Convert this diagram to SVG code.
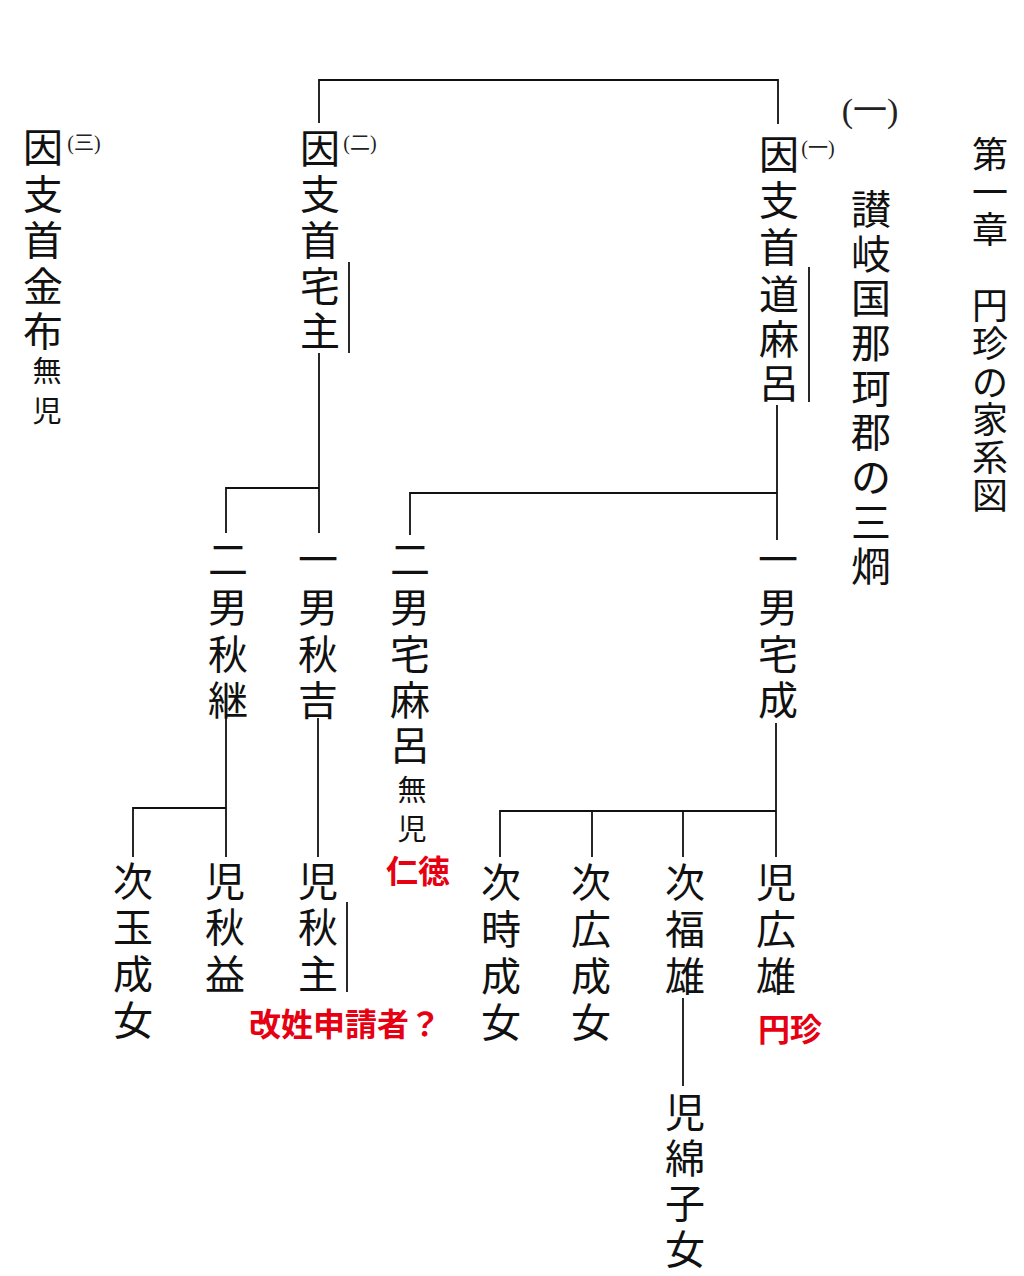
<svg xmlns="http://www.w3.org/2000/svg" width="1024" height="1276" viewBox="0 0 1024 1276">
<style>
.t{font-family:"Noto Sans CJK JP","Noto Sans CJK SC",sans-serif;font-size:40px;fill:#111;text-anchor:middle;dominant-baseline:central}
.s{font-size:29px}
.m{font-family:"Liberation Serif","Noto Sans CJK JP",serif;font-size:20px;fill:#222;dominant-baseline:central}
.big{font-size:34px}
.ttl{font-size:36px}
.red{font-family:"Noto Sans CJK JP",sans-serif;font-size:32px;font-weight:bold;fill:#e60012;text-anchor:middle;dominant-baseline:central}
.ln{stroke:#111;stroke-width:1.8;fill:none}
</style>
<rect width="1024" height="1276" fill="#fff"/>
<g id="connectors" class="ln">
<path d="M319,123 V80 H778 V124"/>
<path d="M319,353 V533 M226,533 V488 H319"/>
<path d="M777,405 V540 M410,535 V493 H777"/>
<path d="M226,718 V857 M133,857 V808 H226"/>
<path d="M318,718 V857"/>
<path d="M776,723 V857 M500,857 V811 H776 M592,811 V857 M683,811 V857"/>
<path d="M683,998 V1086"/>
</g>
<g id="side-lines" class="ln">
<path d="M349,262 V353"/>
<path d="M809,267 V402"/>
<path d="M347,902 V992"/>
</g>
<g id="title">
<text class="t ttl"><tspan x="990" y="152">第</tspan><tspan x="990" y="190">一</tspan><tspan x="990" y="227">章</tspan><tspan x="990" y="303">円</tspan><tspan x="990" y="341">珍</tspan><tspan x="990" y="380">の</tspan><tspan x="990" y="417">家</tspan><tspan x="990" y="455">系</tspan><tspan x="990" y="493">図</tspan></text>
</g>
<g id="header-1">
<text class="m big" x="870" y="110" text-anchor="middle">(一)</text>
<text class="t"><tspan x="871" y="207">讃</tspan><tspan x="871" y="252">岐</tspan><tspan x="871" y="296">国</tspan><tspan x="871" y="341">那</tspan><tspan x="871" y="386">珂</tspan><tspan x="871" y="430">郡</tspan><tspan x="871" y="475">の</tspan><tspan x="871" y="520">三</tspan><tspan x="871" y="564">烱</tspan></text>
</g>
<g id="node-kanenuno">
<text class="t"><tspan x="43" y="145">因</tspan><tspan x="43" y="192">支</tspan><tspan x="43" y="238">首</tspan><tspan x="43" y="284">金</tspan><tspan x="43" y="329">布</tspan></text>
<text class="t s"><tspan x="47" y="369">無</tspan><tspan x="47" y="409">児</tspan></text>
<text class="m" x="84" y="143" text-anchor="middle">(三)</text>
</g>
<g id="node-takanushi">
<text class="t"><tspan x="320" y="146">因</tspan><tspan x="320" y="192">支</tspan><tspan x="320" y="238">首</tspan><tspan x="320" y="284">宅</tspan><tspan x="320" y="329">主</tspan></text>
<text class="m" x="360" y="143" text-anchor="middle">(二)</text>
</g>
<g id="node-michimaro">
<text class="t"><tspan x="779" y="152">因</tspan><tspan x="779" y="198">支</tspan><tspan x="779" y="245">首</tspan><tspan x="779" y="292">道</tspan><tspan x="779" y="337">麻</tspan><tspan x="779" y="381">呂</tspan></text>
<text class="m" x="818" y="148" text-anchor="middle">(一)</text>
</g>
<g id="node-akitsugu">
<text class="t"><tspan x="228" y="557">二</tspan><tspan x="228" y="605">男</tspan><tspan x="228" y="652">秋</tspan><tspan x="228" y="698">継</tspan></text>
</g>
<g id="node-akiyoshi">
<text class="t"><tspan x="318" y="557">一</tspan><tspan x="318" y="605">男</tspan><tspan x="318" y="652">秋</tspan><tspan x="318" y="698">吉</tspan></text>
</g>
<g id="node-yakamaro">
<text class="t"><tspan x="410" y="557">二</tspan><tspan x="410" y="605">男</tspan><tspan x="410" y="652">宅</tspan><tspan x="410" y="698">麻</tspan><tspan x="410" y="743">呂</tspan></text>
<text class="t s"><tspan x="412" y="788">無</tspan><tspan x="412" y="827">児</tspan></text>
<text class="red" x="418" y="869">仁徳</text>
</g>
<g id="node-yakanari">
<text class="t"><tspan x="778" y="557">一</tspan><tspan x="778" y="605">男</tspan><tspan x="778" y="652">宅</tspan><tspan x="778" y="698">成</tspan></text>
</g>
<g id="node-tamanari">
<text class="t"><tspan x="133" y="879">次</tspan><tspan x="133" y="925">玉</tspan><tspan x="133" y="972">成</tspan><tspan x="133" y="1018">女</tspan></text>
</g>
<g id="node-akimasu">
<text class="t"><tspan x="225" y="879">児</tspan><tspan x="225" y="925">秋</tspan><tspan x="225" y="972">益</tspan></text>
</g>
<g id="node-akinushi">
<text class="t"><tspan x="318" y="879">児</tspan><tspan x="318" y="925">秋</tspan><tspan x="318" y="972">主</tspan></text>
<text class="red" x="345" y="1022">改姓申請者？</text>
</g>
<g id="node-tokinari">
<text class="t"><tspan x="501" y="880">次</tspan><tspan x="501" y="927">時</tspan><tspan x="501" y="974">成</tspan><tspan x="501" y="1020">女</tspan></text>
</g>
<g id="node-hironari">
<text class="t"><tspan x="591" y="880">次</tspan><tspan x="591" y="927">広</tspan><tspan x="591" y="974">成</tspan><tspan x="591" y="1020">女</tspan></text>
</g>
<g id="node-fukuo">
<text class="t"><tspan x="685" y="880">次</tspan><tspan x="685" y="927">福</tspan><tspan x="685" y="974">雄</tspan></text>
</g>
<g id="node-hiroo">
<text class="t"><tspan x="776" y="880">児</tspan><tspan x="776" y="927">広</tspan><tspan x="776" y="974">雄</tspan></text>
<text class="red" x="790" y="1027">円珍</text>
</g>
<g id="node-watako">
<text class="t"><tspan x="685" y="1110">児</tspan><tspan x="685" y="1156">綿</tspan><tspan x="685" y="1201">子</tspan><tspan x="685" y="1247">女</tspan></text>
</g>
</svg>
